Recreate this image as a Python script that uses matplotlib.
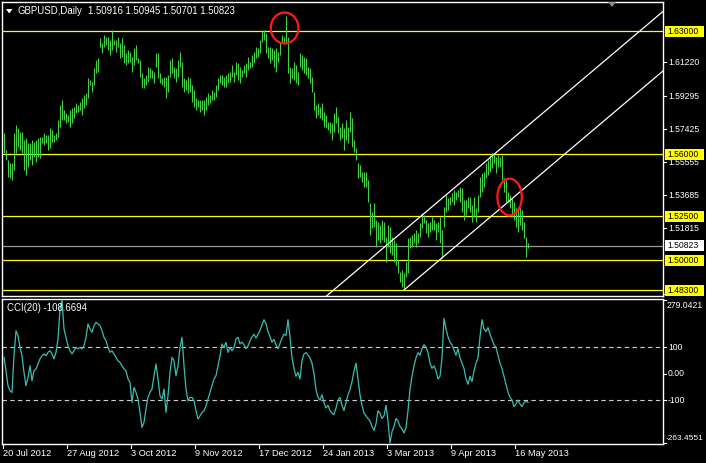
import numpy as np
import matplotlib
matplotlib.use("Agg")
import matplotlib.pyplot as plt
from matplotlib.patches import Ellipse, Polygon, Rectangle

W, H, DPI = 706, 463, 100

# ---------------- data ----------------
symbol = "GBPUSD,Daily"
last_ohlc = [1.50916, 1.50945, 1.50701, 1.50823]

high = [
    1.5721, 1.5625, 1.5568, 1.5551, 1.5551, 1.5721, 1.5767, 1.5750, 1.5727, 1.5727,
    1.5681, 1.5693, 1.5664, 1.5664, 1.5681, 1.5670, 1.5681, 1.5693, 1.5698, 1.5698,
    1.5721, 1.5710, 1.5710, 1.5750, 1.5738, 1.5710, 1.5721, 1.5795, 1.5880, 1.5908,
    1.5852, 1.5835, 1.5823, 1.5852, 1.5863, 1.5869, 1.5891, 1.5880, 1.5897, 1.5920,
    1.5937, 1.5948, 1.6033, 1.6022, 1.6011, 1.6090, 1.6135, 1.6147, 1.6260, 1.6232,
    1.6277, 1.6266, 1.6266, 1.6249, 1.6306, 1.6249, 1.6249, 1.6266, 1.6232, 1.6260,
    1.6221, 1.6175, 1.6192, 1.6181, 1.6152, 1.6204, 1.6221, 1.6147, 1.6135, 1.6062,
    1.6033, 1.6050, 1.6096, 1.6090, 1.6079, 1.6067, 1.6175, 1.6175, 1.6062, 1.6033,
    1.6039, 1.6039, 1.6050, 1.6135, 1.6147, 1.6096, 1.6090, 1.6135, 1.6181,
    1.6124, 1.6033, 1.6022, 1.6039, 1.6033, 1.5994, 1.5965, 1.5920, 1.5908, 1.5908,
    1.5908, 1.5908, 1.5925, 1.5948, 1.5937, 1.5965, 1.5954, 1.5994, 1.6033, 1.6050,
    1.6050, 1.6039, 1.6050, 1.6062, 1.6067, 1.6107, 1.6067, 1.6124, 1.6118, 1.6096,
    1.6079, 1.6107, 1.6118, 1.6152, 1.6124, 1.6164, 1.6181, 1.6209, 1.6204, 1.6249,
    1.6306, 1.6306, 1.6289, 1.6209, 1.6209, 1.6204, 1.6192, 1.6204, 1.6181, 1.6238,
    1.6277, 1.6266, 1.6385, 1.6266, 1.6096, 1.6090, 1.6124, 1.6107, 1.6067, 1.6175,
    1.6164, 1.6152, 1.6147, 1.6096, 1.6090, 1.6039, 1.5954, 1.5880, 1.5891, 1.5869,
    1.5891, 1.5840, 1.5823, 1.5784, 1.5784, 1.5778, 1.5835, 1.5869, 1.5812, 1.5755,
    1.5778, 1.5750, 1.5795, 1.5755, 1.5840, 1.5806, 1.5681, 1.5636, 1.5551, 1.5540,
    1.5500, 1.5500, 1.5500, 1.5454, 1.5324, 1.5273, 1.5324, 1.5227, 1.5216, 1.5199,
    1.5227, 1.5216, 1.5131, 1.5199, 1.5188, 1.5131, 1.5114, 1.5097, 1.5000, 1.4932,
    1.4944, 1.4927, 1.4989, 1.5125, 1.5131, 1.5142, 1.5154, 1.5171, 1.5154, 1.5210,
    1.5267, 1.5256, 1.5227, 1.5210, 1.5216, 1.5244, 1.5227, 1.5210, 1.5216, 1.5244,
    1.5171, 1.5301, 1.5369, 1.5352, 1.5358, 1.5381, 1.5398, 1.5386, 1.5398, 1.5415,
    1.5409, 1.5341, 1.5341, 1.5358, 1.5358, 1.5313, 1.5358, 1.5296, 1.5369, 1.5471,
    1.5494, 1.5500, 1.5551, 1.5568, 1.5596, 1.5608, 1.5608, 1.5585, 1.5596, 1.5585,
    1.5596, 1.5466, 1.5454, 1.5386, 1.5369, 1.5352, 1.5330, 1.5296, 1.5301, 1.5296,
    1.5284, 1.5216, 1.5131, 1.50945,
]

low = [
    1.5608, 1.5568, 1.5471, 1.5466, 1.5454, 1.5511, 1.5608, 1.5642, 1.5625, 1.5608,
    1.5511, 1.5483, 1.5528, 1.5568, 1.5540, 1.5585, 1.5557, 1.5585, 1.5579, 1.5664,
    1.5653, 1.5664, 1.5625, 1.5636, 1.5670, 1.5670, 1.5681, 1.5698, 1.5755, 1.5795,
    1.5795, 1.5778, 1.5784, 1.5755, 1.5778, 1.5806, 1.5835, 1.5840, 1.5852, 1.5823,
    1.5863, 1.5880, 1.5920, 1.5994, 1.5954, 1.5994, 1.6062, 1.6067, 1.6209, 1.6175,
    1.6209, 1.6221, 1.6192, 1.6164, 1.6192, 1.6221, 1.6181, 1.6209, 1.6147, 1.6152,
    1.6118, 1.6107, 1.6118, 1.6124, 1.6067, 1.6107, 1.6135, 1.6118, 1.6039, 1.5977,
    1.5977, 1.5994, 1.6011, 1.6033, 1.6033, 1.6005, 1.6096, 1.6033, 1.6005, 1.5994,
    1.5982, 1.5920, 1.5954, 1.6039, 1.6062, 1.6033, 1.6011, 1.6039, 1.6096,
    1.5982, 1.5954, 1.5965, 1.5948, 1.5954, 1.5897, 1.5869, 1.5852, 1.5869, 1.5840,
    1.5852, 1.5823, 1.5852, 1.5880, 1.5891, 1.5908, 1.5908, 1.5925, 1.5965, 1.6005,
    1.5994, 1.5982, 1.5982, 1.6005, 1.6011, 1.6039, 1.6011, 1.6050, 1.6022, 1.6005,
    1.6039, 1.6062, 1.6039, 1.6079, 1.6090, 1.6096, 1.6118, 1.6147, 1.6152, 1.6175,
    1.6238, 1.6249, 1.6175, 1.6147, 1.6118, 1.6135, 1.6096, 1.6067, 1.6124, 1.6164,
    1.6232, 1.6232, 1.6232, 1.6062, 1.6005, 1.6033, 1.6022, 1.6005, 1.5994, 1.6096,
    1.6079, 1.6062, 1.6050, 1.6033, 1.6005, 1.5954, 1.5852, 1.5806, 1.5823, 1.5806,
    1.5795, 1.5755, 1.5750, 1.5738, 1.5721, 1.5681, 1.5727, 1.5778, 1.5721, 1.5681,
    1.5693, 1.5625, 1.5681, 1.5664, 1.5727, 1.5642, 1.5613, 1.5568, 1.5466, 1.5471,
    1.5443, 1.5415, 1.5415, 1.5330, 1.5142, 1.5182, 1.5188, 1.5074, 1.5114, 1.5097,
    1.5114, 1.5103, 1.4989, 1.5074, 1.5040, 1.5029, 1.4989, 1.4972, 1.4927, 1.4876,
    1.4847, 1.4830, 1.4904, 1.4927, 1.5069, 1.5074, 1.5097, 1.5074, 1.5097, 1.5131,
    1.5182, 1.5210, 1.5154, 1.5131, 1.5159, 1.5171, 1.5171, 1.5114, 1.5159, 1.5097,
    1.5012, 1.5188, 1.5273, 1.5284, 1.5313, 1.5330, 1.5313, 1.5341, 1.5358, 1.5330,
    1.5273, 1.5227, 1.5256, 1.5296, 1.5273, 1.5216, 1.5244, 1.5216, 1.5273, 1.5358,
    1.5386, 1.5415, 1.5466, 1.5483, 1.5500, 1.5523, 1.5551, 1.5494, 1.5528, 1.5528,
    1.5454, 1.5386, 1.5330, 1.5330, 1.5296, 1.5244, 1.5227, 1.5188, 1.5159, 1.5199,
    1.5171, 1.5125, 1.5018, 1.50701,
]

cci = [
    62, 11, -46, -65, -71, 68, 163, 144, 100, 68,
    5, -46, -14, 30, -27, 11, 18, 37, 56, 68,
    75, 68, 81, 87, 75, 56, 81, 132, 246, 279.0421,
    170, 138, 106, 87, 75, 87, 100, 94, 100, 94,
    106, 138, 189, 170, 157, 182, 195, 189, 182, 163,
    138, 125, 100, 81, 87, 75, 62, 49, 43, 30,
    18, 11, -20, -33, -109, -52, -71, -96, -147, -204,
    -185, -134, -90, -71, -58, -8, 37, -20, -84, -96,
    -58, -147, -84, 5, 62, 49, -8, 30, 100, 138,
    30, -58, -103, -90, -90, -103, -141, -172, -160, -147,
    -141, -122, -96, -71, -46, -20, -8, 30, 68, 113,
    100, 119, 81, 100, 87, 100, 132, 138, 113,
    120, 110, 95, 105, 125, 140, 150, 135, 150, 165, 185,
    205, 190, 160, 140, 120, 130, 110, 95, 115, 135, 150, 145,
    205, 140, 60, 20, -10, 5, -20,
    50, 75, 80, 70, 60, 40, 0, -60,
    -90, -100, -80, -110, -130, -120, -140, -150, -155, -130, -100, -90,
    -120, -140, -110, -80, -60, -30,
    10, 40, -20, -80, -120, -150, -160, -170, -180, -200, -215, -190,
    -140, -150, -170, -160, -120,
    -180, -263.4551, -220, -200, -170, -180, -200, -210, -225, -205,
    -140, -60, -10, 30, 60, 80, 70, 95, 110, 100,
    80, 40, 20, 30, 10, -20, -10, 60,
    210, 170, 140, 120, 110, 90, 70, 95, 60, 40,
    20, -20, -40, -10, -30, 10, 40, 60,
    140, 205, 170, 160, 175, 150, 130,
    110, 100, 70, 40, 20, -10, -40, -70, -90, -100,
    -125, -115, -100, -115, -125, -110, -105, -108.6694,
]

date_labels = ["20 Jul 2012", "27 Aug 2012", "3 Oct 2012", "9 Nov 2012",
               "17 Dec 2012", "24 Jan 2013", "3 Mar 2013", "9 Apr 2013", "16 May 2013"]
date_bars = [0, 32, 64, 96, 128, 160, 192, 224, 256]

level_lines = [1.63000, 1.56000, 1.52500, 1.50000, 1.48300]
price_ticks = [1.61220, 1.59295, 1.57425, 1.55555, 1.53685, 1.51815, 1.48075]
cci_period = 20
cci_levels = [100, -100]
cci_ticks = [100, 0, -100]

# price channel (lower line anchored at the swing low)
channel_slope = 0.00096      # price per bar
channel_width = 0.0338
# marked reversal points: (bar, price, width in bars, height in price)
marks = [(140.3, 1.6317, 13.8, 0.0176), (252.8, 1.5358, 12.2, 0.0208)]

# ---------------- style ----------------
BG = "black"
BAR = "#44d044"
YEL = "#ffff00"
CCI_COL = "#3cbcb0"
FONT = "Liberation Sans"
FS = 6.7      # header / date text
FS_R = 6.25   # right-hand scale

fig = plt.figure(figsize=(W / DPI, H / DPI), dpi=DPI, facecolor=BG)


def rect(l, t, r, b):
    return [l / W, 1 - b / H, (r - l) / W, (b - t) / H]


ax = fig.add_axes(rect(2, 2, 663, 296), facecolor=BG)
ax2 = fig.add_axes(rect(2, 299, 663, 444), facecolor=BG)
ov = fig.add_axes([0, 0, 1, 1], facecolor="none")
ov.set_xlim(0, W)
ov.set_ylim(H, 0)
ov.axis("off")
ov.set_zorder(10)

nbars = len(high)
xs = np.arange(nbars)
XL = (-1.0, 329.5)

for a in (ax, ax2):
    a.set_xlim(*XL)
    a.set_xticks([])
    a.set_yticks([])
    for s in a.spines.values():
        s.set_color("white")
        s.set_linewidth(1.0)

ax.set_ylim(1.47961, 1.64646)
ax2.set_ylim(-266.8, 283.5)

# price bars
ax.vlines(xs, low, high, colors=BAR, linewidth=0.8, zorder=3)

# horizontal levels and bid line
for lv in level_lines:
    ax.axhline(lv, color=YEL, linewidth=0.9, zorder=2)
ax.axhline(last_ohlc[3], color="#9a9a9a", linewidth=0.9, zorder=2)

# channel
i_low = int(np.argmin(low))
p_low = low[i_low]
cx_low = np.array([i_low, XL[1]])
ax.plot(cx_low, p_low + channel_slope * (cx_low - i_low), color="white", linewidth=0.9, zorder=4)
cx_up = np.array([i_low - 70, XL[1]])
ax.plot(cx_up, p_low + channel_width + channel_slope * (cx_up - i_low),
        color="white", linewidth=0.9, zorder=4)

for bx, by, bw, bh in marks:
    ax.add_patch(Ellipse((bx, by), bw, bh, fill=False, edgecolor="#ff1a1a",
                         linewidth=1.6, zorder=5))

# CCI panel
ax2.plot(xs, cci, color=CCI_COL, linewidth=0.9, zorder=3)
for lv in cci_levels:
    ax2.axhline(lv, color="#cfcfcf", linewidth=0.8, linestyle=(0, (4, 3)), zorder=2)


def ypix(a, v):
    return H - a.transData.transform((0, v))[1]


def xpix(a, v):
    return a.transData.transform((v, 0))[0]


# right price scale
for p in price_ticks:
    y = ypix(ax, p)
    ov.plot([663, 666], [y, y], color="white", linewidth=0.8)
    ov.text(668, y, f"{p:.5f}", color="white", fontsize=FS_R, family=FONT,
            va="center", ha="left", zorder=1)

for lv in level_lines:
    y = ypix(ax, lv)
    ov.add_patch(Rectangle((665, y - 5.5), 39, 11, facecolor=YEL, edgecolor="none", zorder=3))
    ov.text(667, y, f"{lv:.5f}", color="black", fontsize=FS_R, family=FONT,
            va="center", ha="left", zorder=4)

yb = ypix(ax, last_ohlc[3])
ov.add_patch(Rectangle((665, yb - 5.5), 39, 11, facecolor="white", edgecolor="none", zorder=3))
ov.text(667, yb, f"{last_ohlc[3]:.5f}", color="black", fontsize=FS_R, family=FONT,
        va="center", ha="left", zorder=4)

# CCI scale
cmax, cmin = max(cci), min(cci)
for v in cci_ticks + [cmax, cmin]:
    y = ypix(ax2, v)
    ov.plot([663, 666], [y, y], color="white", linewidth=0.8)
for v in cci_ticks:
    ov.text(668, ypix(ax2, v), "0.00" if v == 0 else f"{v:g}", color="white",
            fontsize=FS_R, family=FONT, va="center", ha="left")
ov.text(667, ypix(ax2, cmax) + 1, f"{cmax:.4f}", color="white", fontsize=FS_R,
        family=FONT, va="top", ha="left")
ov.text(666, ypix(ax2, cmin) - 1, f"{cmin:.4f}", color="white", fontsize=FS_R - 0.2,
        family=FONT, va="bottom", ha="left")

# date axis
for b, lab in zip(date_bars, date_labels):
    x = xpix(ax2, b) - 1
    ov.plot([x, x], [444, 448], color="white", linewidth=0.8)
    ov.text(x, 454, lab, color="white", fontsize=FS, family=FONT, va="center", ha="left")

# headers
ov.add_patch(Polygon([(6, 9), (12.5, 9), (9.2, 13.5)], closed=True, facecolor="white",
                     edgecolor="none"))
ov.text(17, 11, symbol, color="white", fontsize=FS + 0.2, family=FONT, va="center", ha="left")
ov.text(88, 11, " ".join(f"{v:.5f}" for v in last_ohlc), color="white",
        fontsize=FS + 0.2, family=FONT, va="center", ha="left")
ov.text(7, 308, f"CCI({cci_period}) {cci[-1]:.4f}", color="white", fontsize=FS + 0.2,
        family=FONT, va="center", ha="left")
ov.add_patch(Polygon([(608, 2), (616, 2), (612, 7)], closed=True, facecolor="#8c8c8c",
                     edgecolor="none"))

fig.savefig("out.png", dpi=DPI, facecolor=BG)
